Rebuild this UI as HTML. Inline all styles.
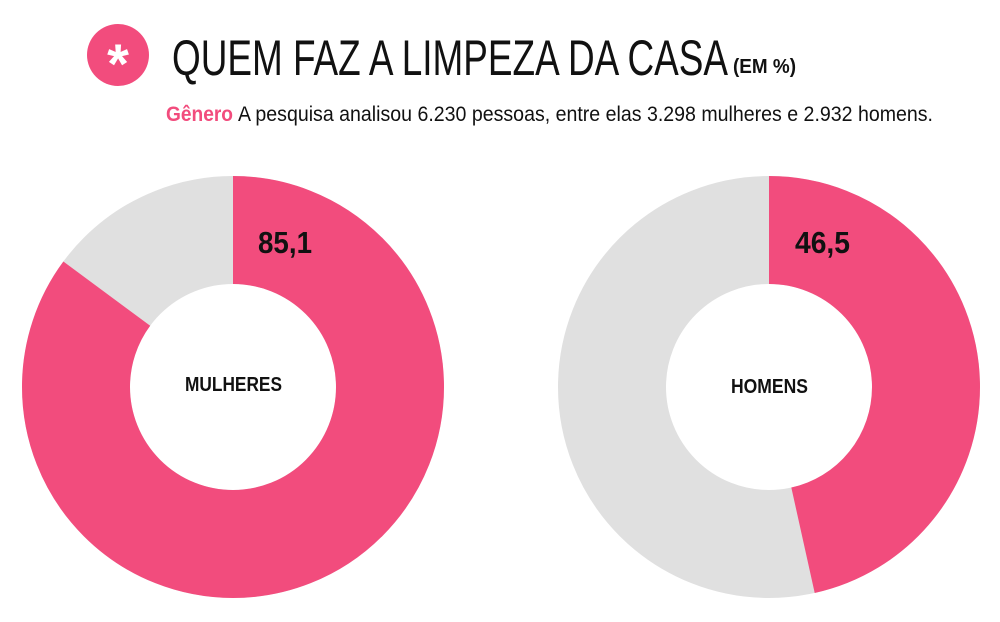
<!DOCTYPE html>
<html><head><meta charset="utf-8"><style>
html,body{margin:0;padding:0;background:#fff;}
svg{display:block;}
text{font-family:"Liberation Sans",sans-serif;}
</style></head><body>
<svg width="1000" height="622" viewBox="0 0 1000 622" xmlns="http://www.w3.org/2000/svg">
<circle cx="118" cy="55" r="31" fill="#F24C7D"/>
<text x="118" y="83" font-size="56" font-weight="bold" fill="#fff" text-anchor="middle">*</text>
<text x="172" y="75" font-size="50" fill="#111" stroke="#fff" stroke-width="1.1" paint-order="stroke" textLength="556" lengthAdjust="spacingAndGlyphs" style="stroke-opacity:1">QUEM FAZ A LIMPEZA DA CASA</text>
<text x="733" y="73" font-size="20" font-weight="bold" fill="#111" textLength="63" lengthAdjust="spacingAndGlyphs">(EM %)</text>
<text x="166" y="121" font-size="21" font-weight="bold" fill="#F24C7D" textLength="67" lengthAdjust="spacingAndGlyphs">Gênero</text>
<text x="238" y="121" font-size="21" fill="#111" textLength="695" lengthAdjust="spacingAndGlyphs">A pesquisa analisou 6.230 pessoas, entre elas 3.298 mulheres e 2.932 homens.</text>

<circle cx="233" cy="387" r="157" fill="none" stroke="#E0E0E0" stroke-width="108"/>
<circle cx="233" cy="387" r="157" fill="none" stroke="#F24C7D" stroke-width="108" stroke-dasharray="839.5 2000" transform="rotate(-90 233 387)"/>
<circle cx="769" cy="387" r="157" fill="none" stroke="#E0E0E0" stroke-width="108"/>
<circle cx="769" cy="387" r="157" fill="none" stroke="#F24C7D" stroke-width="108" stroke-dasharray="458.7 2000" transform="rotate(-90 769 387)"/>

<text x="258" y="253" font-size="31" font-weight="bold" fill="#111" textLength="54" lengthAdjust="spacingAndGlyphs">85,1</text>
<text x="795" y="253" font-size="31" font-weight="bold" fill="#111" textLength="55" lengthAdjust="spacingAndGlyphs">46,5</text>
<text x="185" y="391" font-size="20" font-weight="bold" fill="#111" textLength="97" lengthAdjust="spacingAndGlyphs">MULHERES</text>
<text x="731" y="393" font-size="20" font-weight="bold" fill="#111" textLength="77" lengthAdjust="spacingAndGlyphs">HOMENS</text>
</svg>
</body></html>
